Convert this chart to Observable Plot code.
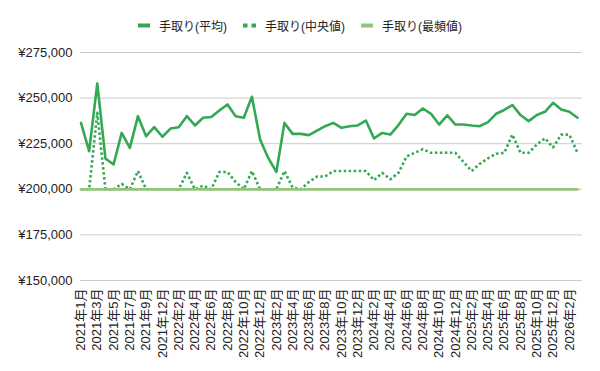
<!DOCTYPE html>
<html><head><meta charset="utf-8">
<script src="https://cdn.jsdelivr.net/npm/d3@7"></script>
<script src="https://cdn.jsdelivr.net/npm/@observablehq/plot@0.6"></script>
<style>
body{margin:0;background:#fff;font-family:"Liberation Sans",Arial,"Noto Sans CJK JP",sans-serif;}
#legend{box-sizing:border-box;height:40px;padding-top:10px;display:flex;justify-content:center;align-items:center;font-size:12px;color:#222;}
.item{display:flex;align-items:center;margin:0 8px;}
.item svg{margin-right:9px;}
</style></head><body>
<div id="legend"></div>
<div id="chart"></div>
<script>
const months = [
 "2021年1月","2021年2月","2021年3月","2021年4月","2021年5月","2021年6月","2021年7月","2021年8月","2021年9月","2021年10月","2021年12月",
 "2022年1月","2022年2月","2022年3月","2022年4月","2022年5月","2022年6月","2022年7月","2022年8月","2022年9月","2022年10月","2022年11月","2022年12月",
 "2023年1月","2023年2月","2023年3月","2023年4月","2023年5月","2023年6月","2023年7月","2023年8月","2023年9月","2023年10月","2023年11月","2023年12月",
 "2024年1月","2024年2月","2024年3月","2024年4月","2024年5月","2024年6月","2024年7月","2024年8月","2024年9月","2024年10月","2024年11月","2024年12月",
 "2025年1月","2025年2月","2025年3月","2025年4月","2025年5月","2025年6月","2025年7月","2025年8月","2025年9月","2025年10月","2025年11月","2025年12月",
 "2026年1月","2026年2月","2026年3月"];
const avg = [
 236400,220900,258000,216900,213600,230900,222700,240100,229100,234100,228800,
 233300,234000,240100,235000,239200,239600,243200,246500,240000,239200,250700,227300,
 217200,209500,236400,230400,230400,229700,232200,234600,236400,233700,234600,235000,
 237700,227900,230900,230000,235200,241400,240700,244300,241400,235500,240500,235500,
 235500,235000,234600,236800,241400,243500,246200,240700,237400,240700,242500,247400,
 243800,242500,239200];
const median = [
 200000,200000,242000,200000,200000,203000,200000,210000,200000,200000,200000,
 200000,200000,209000,200000,202000,200000,209500,209500,204000,200000,210000,200000,
 200000,200000,210000,201000,200000,204000,207000,207000,210000,210000,210000,210000,
 210000,205000,209000,205500,209000,218000,220000,222000,220000,220000,220000,220000,
 215000,210000,214000,217000,219500,220000,230000,220000,220000,224500,228000,223000,
 230000,230000,220000];
const mode = months.map(() => 200000);
const yTicks = [150000,175000,200000,225000,250000,275000];
const xTicks = months.filter((d, i) => i % 2 === 0);
const names = ["手取り(平均)","手取り(中央値)","手取り(最頻値)"];
const colors = ["#34a853","#34a853","#93c47d"];

const rows = months.map((m, i) => ({month: m, avg: avg[i], median: median[i], mode: mode[i]}));

const lg = document.getElementById("legend");
const swatches = [
 `<svg width="12" height="5"><rect x="0" y="0.5" width="12" height="4" fill="${colors[0]}"/></svg>`,
 `<svg width="13" height="5"><rect x="0" y="0.5" width="4.5" height="4" fill="${colors[1]}"/><rect x="8.5" y="0.5" width="4.5" height="4" fill="${colors[1]}"/></svg>`,
 `<svg width="12" height="5"><rect x="0" y="0.5" width="12" height="4" fill="${colors[2]}"/></svg>`
];
names.forEach((n, i) => {
  const d = document.createElement("div");
  d.className = "item";
  d.innerHTML = swatches[i] + `<span>${n}</span>`;
  lg.appendChild(d);
});

const fmt = d3.format(",");
const chart = Plot.plot({
  width: 600,
  height: 331,
  marginTop: 12,
  marginBottom: 91,
  marginLeft: 80,
  marginRight: 18,
  style: {fontFamily: '"Liberation Sans", Arial, "Noto Sans CJK JP", sans-serif', fontSize: "13px", color: "#222", background: "#fff"},
  x: {type: "point", domain: months, padding: 0, round: false, range: [80.5, 577]},
  y: {domain: [150000, 275000]},
  marks: [
    Plot.ruleY(yTicks, {stroke: "#cccccc", strokeWidth: 1}),
    Plot.axisY({ticks: yTicks, tickSize: 0, tickPadding: 8, label: null, tickFormat: d => "¥" + fmt(d), fontSize: 13}),
    Plot.axisX({ticks: xTicks, tickSize: 0, tickPadding: 8, tickRotate: -90, label: null, fontSize: 13}),
    Plot.line(rows, {x: "month", y: "avg", stroke: colors[0], strokeWidth: 2.6, curve: "linear"}),
    Plot.line(rows, {x: "month", y: "median", stroke: colors[1], strokeWidth: 2.6, strokeDasharray: "2.5,2.5", strokeLinecap: "butt"}),
    Plot.line(rows, {x: "month", y: "mode", stroke: colors[2], strokeWidth: 2.8})
  ]
});
document.getElementById("chart").appendChild(chart);
</script>
</body></html>
